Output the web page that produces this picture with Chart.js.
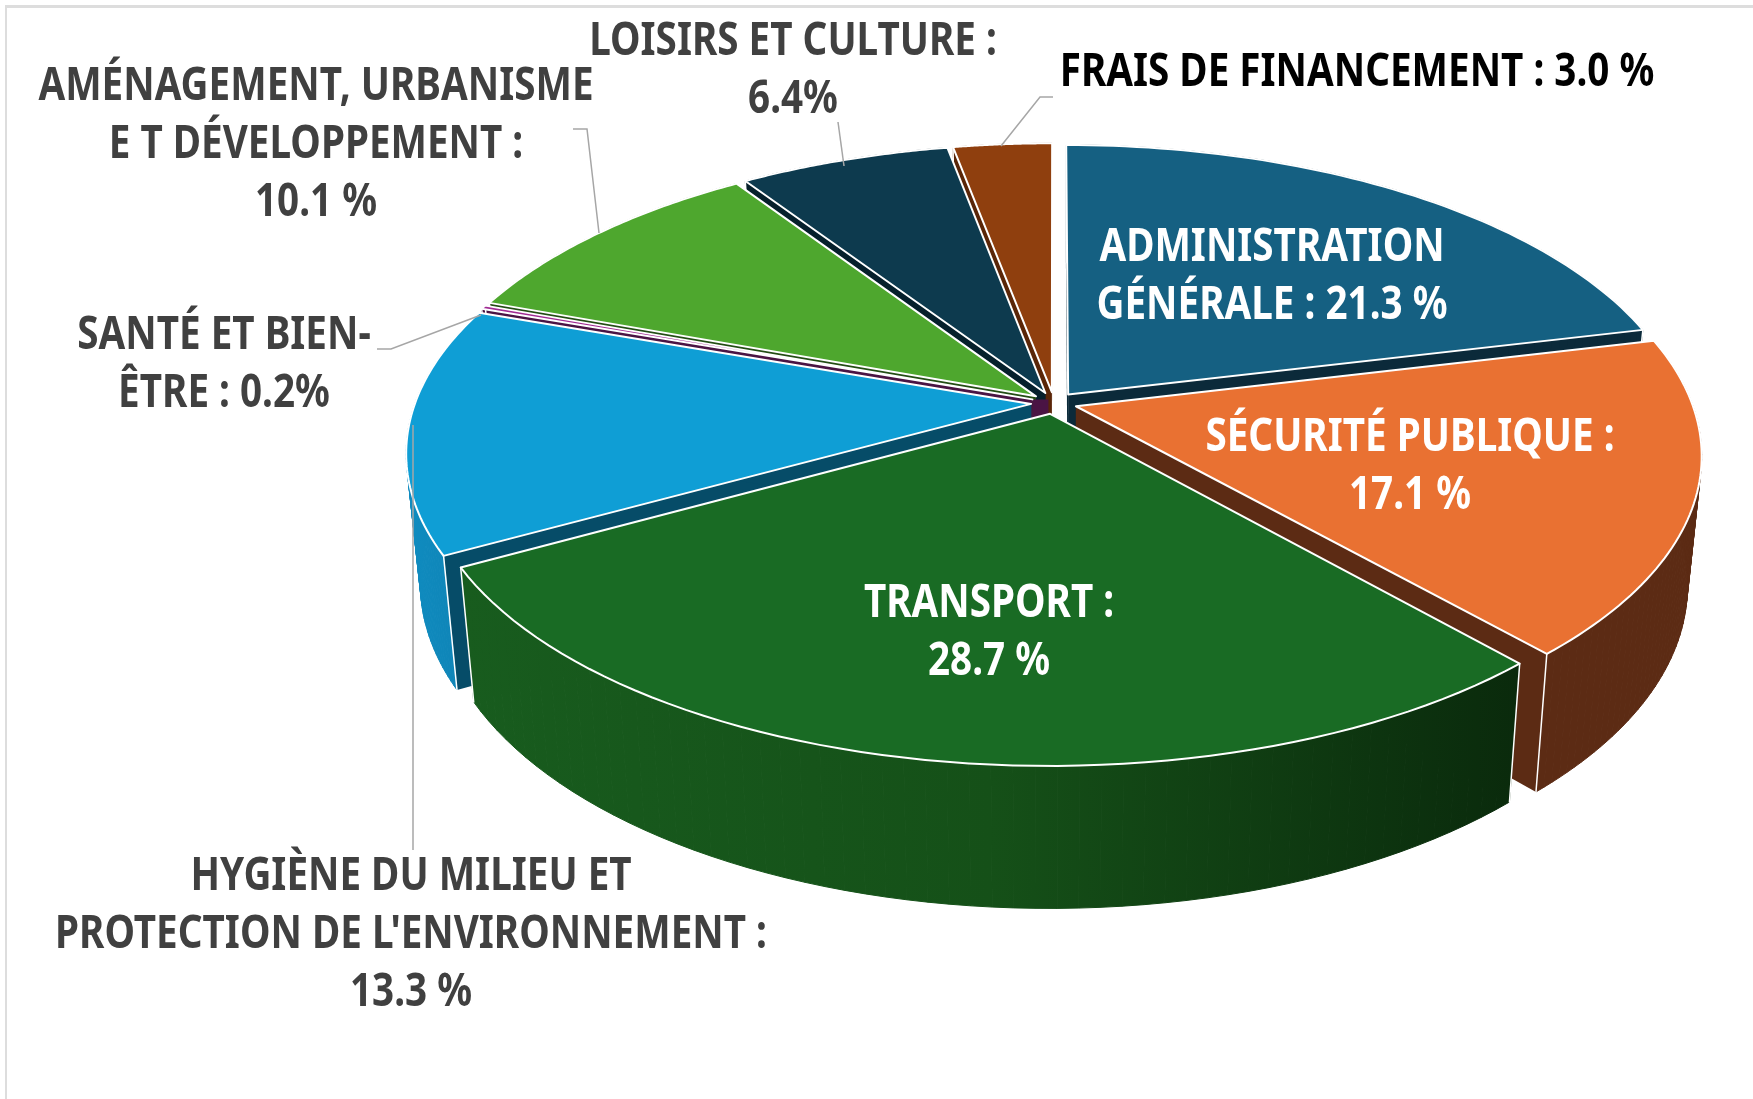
<!DOCTYPE html>
<html lang="fr">
<head>
<meta charset="UTF-8">
<title>Répartition des dépenses</title>
<style>
  body { margin: 0; background: #fff; }
  #frame { position: absolute; left: 5px; top: 5px; right: 0; bottom: 0; border-left: 2px solid #ddd; border-top: 3px solid #ddd; }
  #chart { position: absolute; left: 0; top: 0; }
</style>
</head>
<body>
<div id="frame"></div>
<canvas id="chart" width="1753" height="1099"></canvas>
<script src="https://cdn.jsdelivr.net/npm/chart.js@4"></script>
<script>
const categories = ["Administration générale", "Sécurité publique", "Transport", "Hygiène du milieu et protection de l'environnement", "Santé et bien-être", "Aménagement, urbanisme et développement", "Loisirs et culture", "Frais de financement"];
const shares = [21.3, 17.1, 28.7, 13.3, 0.2, 10.1, 6.4, 3.0];
const labelLines = [
  ["ADMINISTRATION", "GÉNÉRALE : 21.3 %"],
  ["SÉCURITÉ PUBLIQUE :", "17.1 %"],
  ["TRANSPORT :", "28.7 %"],
  ["HYGIÈNE DU MILIEU ET", "PROTECTION DE L'ENVIRONNEMENT :", "13.3 %"],
  ["SANTÉ ET BIEN-", "ÊTRE : 0.2%"],
  ["AMÉNAGEMENT, URBANISME", "E T DÉVELOPPEMENT :", "10.1 %"],
  ["LOISIRS ET CULTURE :", "6.4%"],
  ["FRAIS DE FINANCEMENT : 3.0 %"]
];

// styles
const topColors = ["#156082", "#E97132", "#196B24", "#0F9ED5", "#A02B93", "#4EA72E", "#0D3A4E", "#8F3F0E"];
const wallColors = ["#0B2A3A", "#5C2B14", "#0A2A0C", "#064C68", "#4A1444", "#234D14", "#06202C", "#5A2608"];
const outerWallStops = [null, null, ["#185C1E", "#155018", "#0A2A0C"], ["#0F8CC0", "#0F82B4"], null, null, null, null];
const labelColors = ["#fff", "#fff", "#fff", "#404040", "#404040", "#404040", "#404040", "#000"];
const labelAnchors = [[1272, 248], [1410, 438], [989, 604], [411, 877], [224, 336], [316, 87], [793, 42], [1357, 73]];
const leaders = [
  [[1001, 146], [1040, 97], [1053, 97]],
  [[844, 166], [838, 122]],
  [[599, 233], [587, 129], [573, 129]],
  [[481, 315], [391, 349], [377, 349]],
  [[413, 425], [413, 850]]
];

// how the flat disc is seen: perspective tilt plus an extruded lower disc
const view = { cx: 1054, cy: 403, a: 616, b: 292, k: 0.16, depth: 128, shrinkX: 0.978, stretchY: 1.04 };
const fontSize = 46, lineGap = 58, textScaleX = 0.84;
// very thin slices show as a small post at the centre instead of a sliver
const thinShare = 1, postWidth = 16;

function project(u, v, lower) {
  const w = 1 - view.k * v;
  let x = view.a * u / w, y = view.b * v / w;
  if (lower) { x *= view.shrinkX; y = y * view.stretchY + view.depth; }
  return [view.cx + x, view.cy + y];
}

function polygon(ctx, pts) {
  ctx.beginPath();
  pts.forEach((p, i) => i ? ctx.lineTo(p[0], p[1]) : ctx.moveTo(p[0], p[1]));
  ctx.closePath();
}

const pie3d = {
  id: "pie3d",
  beforeDatasetsDraw(chart) {
    const ctx = chart.ctx;
    const arcs = chart.getDatasetMeta(0).data.map((arc, i) => {
      const mid = (arc.startAngle + arc.endAngle) / 2;
      const e = (arc.options.offset / 4) / arc.outerRadius;
      const ox = e * Math.cos(mid), oy = e * Math.sin(mid);
      const rim = [];
      for (let s = 0; s <= 60; s++) {
        const t = arc.startAngle + (arc.endAngle - arc.startAngle) * s / 60;
        rim.push([ox + Math.cos(t), oy + Math.sin(t)]);
      }
      return { i, ox, oy, rim, depthKey: Math.sin(mid) };
    });
    arcs.sort((p, q) => p.depthKey - q.depthKey);

    ctx.save();
    ctx.lineJoin = "round";
    arcs.forEach(({ i, ox, oy, rim }) => {
      const up = p => project(p[0], p[1], false), low = p => project(p[0], p[1], true);
      const apex = [ox, oy];
      const first = rim[0], last = rim[rim.length - 1];

      // radial side walls
      [first, last].forEach(edge => {
        polygon(ctx, [up(apex), up(edge), low(edge), low(apex)]);
        ctx.fillStyle = wallColors[i];
        ctx.fill();
      });

      if (shares[i] < thinShare) {
        const a = up(apex), b = low(apex);
        polygon(ctx, [a, [a[0] + postWidth, a[1]], [b[0] + postWidth, b[1]], b]);
        ctx.fillStyle = wallColors[i];
        ctx.fill();
      }

      // outer curved wall, one quad per rim step so the silhouette stays closed
      let paint = wallColors[i];
      if (outerWallStops[i]) {
        const xs = rim.map(p => up(p)[0]);
        paint = ctx.createLinearGradient(Math.min(...xs), 0, Math.max(...xs), 0);
        outerWallStops[i].forEach((c, n, all) => paint.addColorStop(n / (all.length - 1), c));
      }
      ctx.fillStyle = paint;
      ctx.strokeStyle = paint;
      ctx.lineWidth = 1;
      for (let s = 0; s < rim.length - 1; s++) {
        polygon(ctx, [up(rim[s]), up(rim[s + 1]), low(rim[s + 1]), low(rim[s])]);
        ctx.fill();
        ctx.stroke();
      }

      // white corner edges
      ctx.strokeStyle = "#fff";
      ctx.lineWidth = 1.5;
      [first, last].forEach(edge => {
        polygon(ctx, [up(edge), low(edge)]);
        ctx.stroke();
      });

      // top face
      polygon(ctx, [up(apex)].concat(rim.map(up)));
      ctx.fillStyle = topColors[i];
      ctx.fill();
      ctx.lineWidth = 2;
      ctx.stroke();
    });
    ctx.restore();
    return false;
  },
  afterDraw(chart) {
    const ctx = chart.ctx;
    ctx.save();
    ctx.strokeStyle = "#a6a6a6";
    ctx.lineWidth = 1.5;
    leaders.forEach(line => {
      ctx.beginPath();
      line.forEach((p, i) => i ? ctx.lineTo(p[0], p[1]) : ctx.moveTo(p[0], p[1]));
      ctx.stroke();
    });
    ctx.font = "bold " + fontSize + "px 'Noto Sans'";
    ctx.textAlign = "center";
    ctx.textBaseline = "middle";
    labelLines.forEach((lines, i) => {
      ctx.fillStyle = labelColors[i];
      lines.forEach((line, n) => {
        ctx.save();
        ctx.translate(labelAnchors[i][0], labelAnchors[i][1] + n * lineGap);
        ctx.scale(textScaleX, 1);
        ctx.fillText(line, 0, 0);
        ctx.restore();
      });
    });
    ctx.restore();
  }
};

new Chart(document.getElementById("chart"), {
  type: "pie",
  data: {
    labels: categories,
    datasets: [{ data: shares, backgroundColor: topColors, offset: 76 }]
  },
  options: {
    responsive: false,
    animation: false,
    events: [],
    plugins: { legend: { display: false }, tooltip: { enabled: false } }
  },
  plugins: [pie3d]
});
</script>
</body>
</html>
